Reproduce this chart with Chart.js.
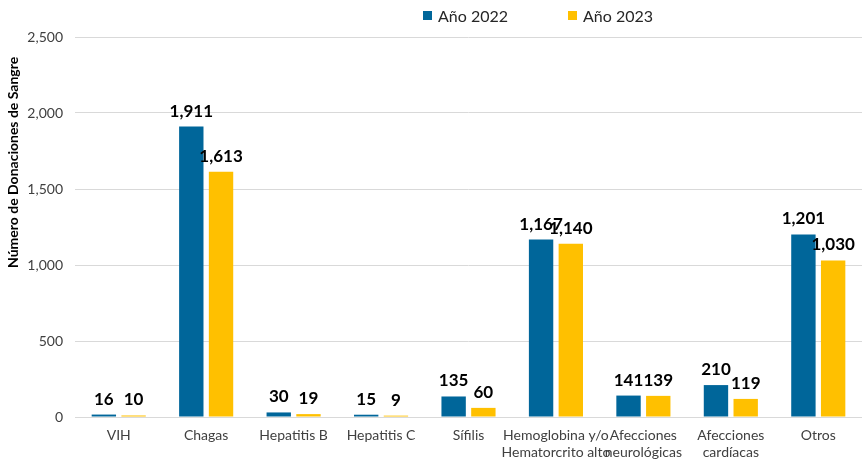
<!DOCTYPE html>
<html lang="es">
<head>
<meta charset="utf-8">
<title>Donaciones de Sangre rechazadas</title>
<script src="https://cdn.jsdelivr.net/npm/chart.js@4.4.1/dist/chart.umd.min.js"></script>
<style>
    html, body { margin: 0; padding: 0; background: #ffffff; }
    #wrap { position: relative; width: 862px; height: 464px; }
    #legend {
        position: absolute; top: 6px; left: 423px;
        display: flex; gap: 60px;
        font-family: Lato, 'Open Sans', sans-serif; font-size: 16px; color: #262626;
    }
    #legend span.item { display: flex; align-items: center; }
    #legend span.box { display: inline-block; width: 9px; height: 9px; margin-right: 6px; }
</style>
</head>
<body>
<div id="wrap">
    <canvas id="chart" width="862" height="464"></canvas>
    <div id="legend"></div>
</div>
<script>
    'use strict';

    // --- data ---
    const categories = [
        'VIH', 'Chagas', 'Hepatitis B', 'Hepatitis C', 'Sífilis',
        ['Hemoglobina y/o', 'Hematorcrito alto'],
        ['Afecciones', 'neurológicas'],
        ['Afecciones', 'cardíacas'],
        'Otros'
    ];
    const seriesNames = ['Año 2022', 'Año 2023'];
    const values2022 = [16, 1911, 30, 15, 135, 1167, 141, 210, 1201];
    const values2023 = [10, 1613, 19, 9, 60, 1140, 139, 119, 1030];
    const yTicks = [0, 500, 1000, 1500, 2000, 2500];

    const COLORS = ['#00669A', '#FFC000'];
    const FONT = "Lato, 'Open Sans', sans-serif";

    // value labels above each bar
    const valueLabels = {
        id: 'valueLabels',
        afterDatasetsDraw(chart) {
            const ctx = chart.ctx;
            ctx.save();
            ctx.font = 'bold 17px ' + FONT;
            ctx.fillStyle = '#000000';
            ctx.textAlign = 'center';
            ctx.textBaseline = 'bottom';
            chart.data.datasets.forEach((ds, i) => {
                chart.getDatasetMeta(i).data.forEach((bar, j) => {
                    ctx.fillText(ds.data[j].toLocaleString('en-US'), bar.x, bar.y - 7);
                });
            });
            ctx.restore();
        }
    };

    // rotated y axis title (sits above centre, as in the original)
    const yTitle = {
        id: 'yTitle',
        afterDraw(chart) {
            const ctx = chart.ctx;
            const area = chart.chartArea;
            ctx.save();
            ctx.translate(13, area.top + area.height * 0.33);
            ctx.rotate(-Math.PI / 2);
            ctx.font = 'bold 14px ' + FONT;
            ctx.fillStyle = '#000000';
            ctx.textAlign = 'center';
            ctx.textBaseline = 'middle';
            ctx.fillText('Número de Donaciones de Sangre', 0, 0);
            ctx.restore();
        }
    };

    // html legend
    const legendEl = document.getElementById('legend');
    seriesNames.forEach((name, i) => {
        const item = document.createElement('span');
        item.className = 'item';
        item.innerHTML = `<span class="box" style="background:${COLORS[i]}"></span>${name}`;
        legendEl.appendChild(item);
    });

    new Chart(document.getElementById('chart').getContext('2d'), {
        type: 'bar',
        data: {
            labels: categories,
            datasets: [
                { label: seriesNames[0], data: values2022, backgroundColor: COLORS[0],
                  categoryPercentage: 0.68, barPercentage: 0.82 },
                { label: seriesNames[1], data: values2023, backgroundColor: COLORS[1],
                  categoryPercentage: 0.68, barPercentage: 0.82 }
            ]
        },
        options: {
            responsive: false,
            animation: false,
            layout: { padding: { top: 37, right: 0, left: 0, bottom: 0 } },
            plugins: {
                legend: { display: false },
                tooltip: { enabled: false }
            },
            scales: {
                x: {
                    grid: { display: false, drawTicks: false },
                    border: { color: '#d9d9d9', width: 1 },
                    ticks: {
                        color: '#404040',
                        font: { family: FONT, size: 14 },
                        padding: 10,
                        maxRotation: 0,
                        autoSkip: false
                    },
                    afterFit(scale) { scale.height = 47; }
                },
                y: {
                    min: 0,
                    max: 2500,
                    afterBuildTicks(scale) { scale.ticks = yTicks.map(v => ({ value: v })); },
                    grid: { color: '#d9d9d9', lineWidth: 1, drawTicks: false },
                    border: { display: false },
                    ticks: {
                        color: '#404040',
                        font: { family: FONT, size: 14 },
                        padding: 12,
                        callback: v => v.toLocaleString('en-US')
                    },
                    afterFit(scale) { scale.width = 75; }
                }
            }
        },
        plugins: [valueLabels, yTitle]
    });
</script>
</body>
</html>
